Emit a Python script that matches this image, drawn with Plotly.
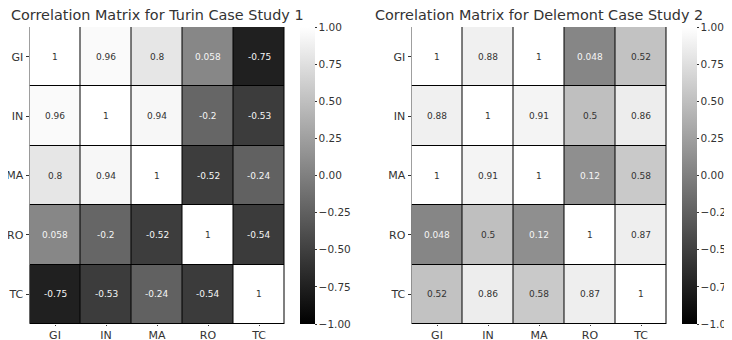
import plotly.graph_objects as go

labels = ["GI", "IN", "MA", "RO", "TC"]

turin = [
    [1, 0.96, 0.8, 0.058, -0.75],
    [0.96, 1, 0.94, -0.2, -0.53],
    [0.8, 0.94, 1, -0.52, -0.24],
    [0.058, -0.2, -0.52, 1, -0.54],
    [-0.75, -0.53, -0.24, -0.54, 1],
]

delemont = [
    [1, 0.88, 1, 0.048, 0.52],
    [0.88, 1, 0.91, 0.5, 0.86],
    [1, 0.91, 1, 0.12, 0.58],
    [0.048, 0.5, 0.12, 1, 0.87],
    [0.52, 0.86, 0.58, 0.87, 1],
]

titles = ["Correlation Matrix for Turin Case Study 1",
          "Correlation Matrix for Delemont Case Study 2"]

cb_ticks = [1.0, 0.75, 0.5, 0.25, 0.0, -0.25, -0.5, -0.75, -1.0]
cb_text = [("%.2f" % v).replace("-", "\u2212") for v in cb_ticks]

W, H = 732, 340
OFF = 8  # page body margin offset
FONT = "DejaVu Sans"
TXT = "#333333"

panels = [
    dict(data=turin, x0=29.5 - OFF, x1=284.5 - OFF, cb=300 - OFF),
    dict(data=delemont, x0=411.5 - OFF, x1=666.5 - OFF, cb=682 - OFF),
]
ytop, ybot = 27 - OFF, 324 - OFF

fig = go.Figure()
annotations = []


def fmt(v):
    return "%g" % v


for k, p in enumerate(panels):
    xa = "x" if k == 0 else "x2"
    ya = "y" if k == 0 else "y2"
    fig.add_trace(go.Heatmap(
        z=p["data"], x=labels, y=labels,
        xaxis=xa, yaxis=ya,
        zmin=-1, zmax=1,
        colorscale=[[0, "#000000"], [1, "#ffffff"]],
        xgap=1, ygap=1,
        hoverinfo="skip",
        colorbar=dict(
            x=p["cb"] / W, xanchor="left", xref="paper",
            y=(H - ybot) / H, yanchor="bottom",
            len=(ybot - ytop) / H, lenmode="fraction",
            thickness=15, thicknessmode="pixels",
            outlinewidth=0, xpad=0, ypad=0,
            ticks="outside", ticklen=2, tickcolor=TXT, tickwidth=1,
            tickvals=cb_ticks, ticktext=cb_text,
            tickfont=dict(family=FONT, size=10.5, color=TXT),
        ),
    ))
    for i, row in enumerate(p["data"]):
        for j, v in enumerate(row):
            g = (v + 1) / 2
            lin = ((g + 0.055) / 1.055) ** 2.4 if g > 0.04045 else g / 12.92
            col = "#333333" if lin > 0.408 else "#f5f5f5"
            annotations.append(dict(
                x=labels[j], y=labels[i], xref=xa, yref=ya,
                text=fmt(v), showarrow=False,
                font=dict(family=FONT, size=9, color=col),
            ))
    annotations.append(dict(
        x=(p["x0"] + p["x1"]) / 2 / W, y=1 - (15 - OFF) / H,
        xref="paper", yref="paper",
        text=titles[k], showarrow=False, xanchor="center", yanchor="middle",
        font=dict(family=FONT, size=14.4, color=TXT),
    ))

axis_common = dict(
    ticks="outside", tickcolor=TXT, automargin=False,
    tickfont=dict(family=FONT, size=11, color=TXT),
    showgrid=False, zeroline=False, showline=False,
)
xaxis_common = dict(ticklen=1, **axis_common)
yaxis_common = dict(ticklen=3, **axis_common)

fig.update_layout(
    width=W, height=H,
    margin=dict(l=0, r=0, t=0, b=0, autoexpand=False),
    paper_bgcolor="white", plot_bgcolor="#000000",
    showlegend=False,
    annotations=annotations,
    xaxis=dict(domain=[panels[0]["x0"] / W, panels[0]["x1"] / W], anchor="y", **xaxis_common),
    yaxis=dict(domain=[(H - ybot) / H, (H - ytop) / H], anchor="x",
               autorange="reversed", **yaxis_common),
    xaxis2=dict(domain=[panels[1]["x0"] / W, panels[1]["x1"] / W], anchor="y2", **xaxis_common),
    yaxis2=dict(domain=[(H - ybot) / H, (H - ytop) / H], anchor="x2",
                autorange="reversed", **yaxis_common),
)

fig.write_html("out.html")
